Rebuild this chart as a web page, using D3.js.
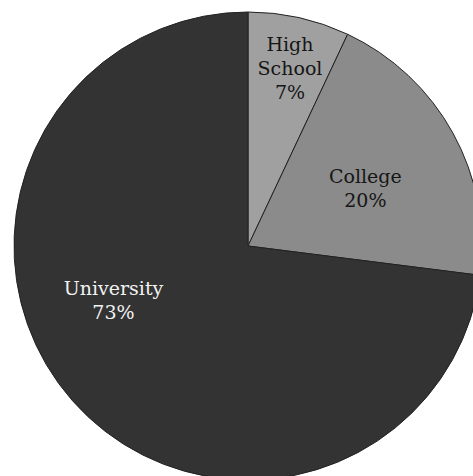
<!DOCTYPE html>
<html><head><meta charset="utf-8">
<script src="https://cdn.jsdelivr.net/npm/d3@7"></script>
<style>html,body{margin:0;padding:0;background:#fff;}svg{display:block;}</style>
</head><body>
<script>
const categories = ["High School", "College", "University"];
const values = [7, 20, 73];
const labelLines = [["High", "School", "7%"], ["College", "20%"], ["University", "73%"]];

const W = 473, H = 476;
const cx = 248, cy = 246, R = 234;
const colors = d3.scaleOrdinal().domain(categories).range(["#a0a0a0", "#8b8b8b", "#333333"]);
const textColors = d3.scaleOrdinal().domain(categories).range(["#161616", "#161616", "#f2f2f2"]);
// label placement as polar (radius fraction, angle in degrees clockwise from top)
const labelPolar = [[0.78, 13.3], [0.56, 63.6], [0.62, 248]];

const svg = d3.select("body").append("svg").attr("width", W).attr("height", H);
const g = svg.append("g").attr("transform", `translate(${cx},${cy})`);
const pie = d3.pie().sort(null).value(d => d.v);
const data = categories.map((c, i) => ({c, v: values[i], lines: labelLines[i], lp: labelPolar[i]}));
const arcs = pie(data);
const arc = d3.arc().innerRadius(0).outerRadius(R);

g.selectAll("path").data(arcs).join("path")
  .attr("d", arc)
  .attr("fill", d => colors(d.data.c))
  .attr("stroke", "#222")
  .attr("stroke-width", 1);

const lineH = 24;
const lab = g.selectAll("text").data(arcs).join("text")
  .attr("font-family", "'DejaVu Serif', serif")
  .attr("font-size", 19)
  .attr("text-anchor", "middle")
  .attr("fill", d => textColors(d.data.c))
  .attr("transform", d => {
    const [f, a] = d.data.lp;
    const rad = a * Math.PI / 180;
    return `translate(${Math.sin(rad) * R * f},${-Math.cos(rad) * R * f})`;
  });
lab.each(function(d) {
  const n = d.data.lines.length;
  d3.select(this).selectAll("tspan").data(d.data.lines).join("tspan")
    .attr("x", 0)
    .attr("y", (t, i) => (i - (n - 1) / 2) * lineH + 7)
    .text(t => t);
});
</script>
</body></html>
